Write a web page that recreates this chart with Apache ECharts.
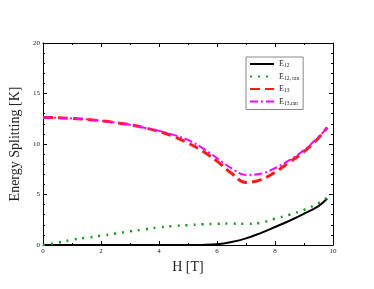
<!DOCTYPE html>
<html><head><meta charset="utf-8">
<script src="https://cdn.jsdelivr.net/npm/echarts@6/dist/echarts.min.js"></script>
<style>html,body{margin:0;padding:0;background:#fff}#c{width:374px;height:289px}</style>
</head><body><div id="c"></div>
<script>
var H      = [0,0.5,1,1.5,2,2.5,3,3.5,4,4.5,5,5.5,6,6.5,7,7.5,8,8.5,9,9.5,9.8];
var E12    = [0,0,0,0,0,0,0,0,0,0,0,0.01,0.07,0.3,0.66,1.18,1.78,2.4,3.1,3.85,4.6];
var E12ran = [0,0.22,0.52,0.72,0.92,1.13,1.35,1.55,1.74,1.88,1.97,2.05,2.1,2.12,2.1,2.2,2.6,3.0,3.48,4.14,4.7];
var E13    = [12.63,12.6,12.53,12.45,12.3,12.12,11.9,11.6,11.25,10.75,10.1,9.3,8.3,7.1,6.2,6.45,7.2,8.2,9.24,10.6,11.65];
var E13ran = [12.63,12.6,12.53,12.45,12.3,12.12,11.9,11.6,11.3,10.9,10.4,9.6,8.6,7.6,6.94,7.05,7.6,8.4,9.4,10.7,11.6];
var xTicks = [0,2,4,6,8,10];
var yTicks = [0,5,10,15,20];
var names = ['E12','E12ran','E13','E13ran'];
var labels = {E12:'12',E12ran:'12, ran',E13:'13',E13ran:'13,ran'};

function pairs(ys){return H.map(function(h,i){return [h,ys[i]];});}
var font = 'Liberation Serif';
var chart = echarts.init(document.getElementById('c'));
function axisCommon(showLabel){
  return {
    axisLine:{show:true,onZero:false,lineStyle:{color:'#000',width:1}},
    axisTick:{show:true,inside:true,length:4,lineStyle:{color:'#000'}},
    minorTick:{show:true,length:2,lineStyle:{color:'#000'}},
    splitLine:{show:false},
    axisLabel:{show:showLabel,fontFamily:font,fontSize:7,color:'#222',margin:3}
  };
}
var xa0 = Object.assign(axisCommon(true),{type:'value',min:0,max:10,interval:2,position:'bottom',
  name:'H [T]',nameLocation:'middle',nameGap:12,nameTextStyle:{fontFamily:font,fontSize:14,color:'#222'}});
xa0.minorTick.splitNumber=2;
var xa1 = Object.assign(axisCommon(false),{type:'value',min:0,max:10,interval:2,position:'top'});
xa1.minorTick.splitNumber=2;
var ya0 = Object.assign(axisCommon(true),{type:'value',min:0,max:20,interval:5,position:'left',
  name:'Energy Splitting [K]',nameLocation:'middle',nameGap:11,nameTextStyle:{fontFamily:font,fontSize:14,color:'#222'}});
ya0.minorTick.splitNumber=5;
var ya1 = Object.assign(axisCommon(false),{type:'value',min:0,max:20,interval:5,position:'right'});
ya1.minorTick.splitNumber=5;

function ser(name,data,color,type,width){
  return {name:name,type:'line',data:pairs(data),smooth:0.4,showSymbol:false,symbol:'none',
    lineStyle:{color:color,type:type,width:width,cap:'butt'},itemStyle:{color:color},animation:false};
}
chart.setOption({
  animation:false,
  grid:{left:43,right:41,top:43,bottom:44},
  xAxis:[xa0,xa1],
  yAxis:[ya0,ya1],
  legend:{
    data:names, orient:'vertical', left:246, top:57, itemWidth:24, itemHeight:8, itemGap:3.5,
    padding:[3,4,3,3], borderColor:'#888', borderWidth:1, backgroundColor:'#fff',
    itemStyle:{opacity:0},
    formatter:function(n){return '{m|E}{s|'+labels[n]+'}';},
    textStyle:{fontFamily:font,color:'#222',rich:{m:{fontFamily:font,fontSize:8,color:'#222'},s:{fontFamily:font,fontSize:5.5,color:'#222',verticalAlign:'bottom',padding:[4,0,0,0]}}}
  },
  series:[
    ser('E12',E12,'#000','solid',2),
    ser('E12ran',E12ran,'#1a9a1a',[2,6],2.5),
    ser('E13',E13,'#ff1a1a',[10,5],3),
    ser('E13ran',E13ran,'#ff00ff',[8,3,2,3],2)
  ]
});
</script></body></html>
